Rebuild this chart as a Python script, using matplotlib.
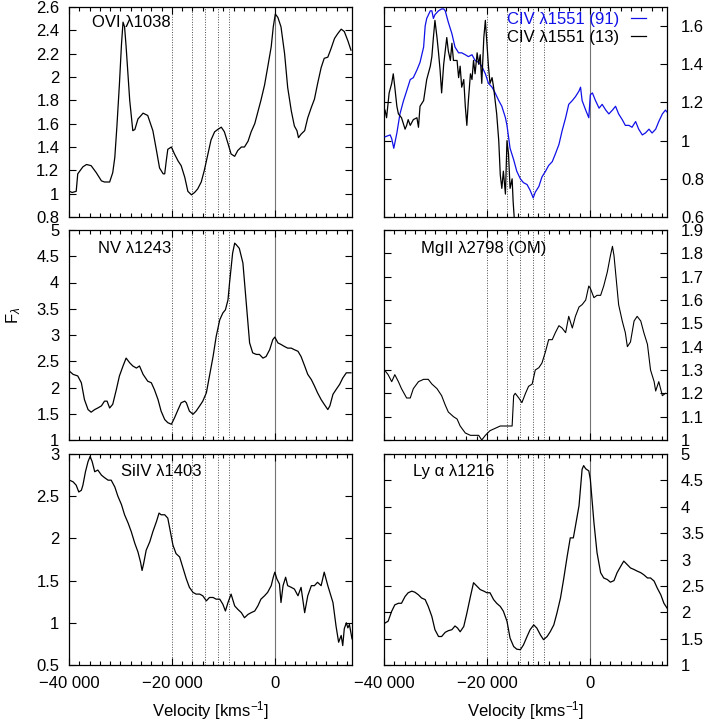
import numpy as np
import matplotlib
matplotlib.use('Agg')
import matplotlib.pyplot as plt
from matplotlib.ticker import MultipleLocator, FuncFormatter, FormatStrFormatter

plt.rcParams['font.family'] = ['Liberation Sans', 'DejaVu Sans']
plt.rcParams['mathtext.fontset'] = 'custom'
plt.rcParams['mathtext.rm'] = 'Liberation Sans'
plt.rcParams['mathtext.it'] = 'Liberation Sans:italic'
plt.rcParams['font.size'] = 12

# velocity in 10^3 km/s, flux in arbitrary units
ovi = [(-39.9, 1.02), (-39.4, 1.01), (-38.6, 1.02), (-38.3, 1.17), (-37.3, 1.23), (-36.6, 1.25),
       (-35.7, 1.24), (-34.7, 1.18), (-33.7, 1.11), (-33.1, 1.10), (-32.1, 1.10), (-31.5, 1.18),
       (-31.1, 1.31), (-30.7, 1.57), (-30.2, 1.94), (-29.8, 2.28), (-29.5, 2.47), (-29.2, 2.43),
       (-28.9, 2.26), (-28.2, 1.80), (-27.6, 1.54), (-27.2, 1.55), (-26.6, 1.64), (-25.6, 1.69),
       (-24.7, 1.67), (-23.7, 1.54), (-23.0, 1.37), (-22.4, 1.22), (-21.7, 1.17), (-21.4, 1.17),
       (-21.1, 1.28), (-20.8, 1.38), (-20.1, 1.40), (-19.5, 1.34), (-18.8, 1.28), (-18.2, 1.24),
       (-17.5, 1.14), (-16.9, 1.02), (-16.2, 0.99), (-15.6, 1.01), (-15.0, 1.04), (-14.3, 1.10),
       (-13.7, 1.20), (-13.0, 1.34), (-12.4, 1.46), (-11.7, 1.53), (-11.1, 1.55), (-10.4, 1.57),
       (-9.8, 1.53), (-9.1, 1.43), (-8.5, 1.34), (-7.8, 1.32), (-7.2, 1.37), (-6.5, 1.40),
       (-5.9, 1.40), (-5.2, 1.45), (-4.6, 1.53), (-3.9, 1.60), (-3.3, 1.70), (-2.7, 1.80),
       (-2.0, 1.93), (-1.4, 2.08), (-0.7, 2.26), (-0.3, 2.43), (0.1, 2.54), (0.6, 2.51),
       (1.2, 2.43), (1.9, 2.20), (2.5, 1.91), (3.2, 1.71), (3.8, 1.58), (4.3, 1.54),
       (4.6, 1.48), (5.1, 1.51), (5.8, 1.54), (6.4, 1.65), (7.1, 1.74), (7.7, 1.81),
       (8.3, 1.94), (9.0, 2.08), (9.6, 2.16), (10.3, 2.17), (10.9, 2.24), (11.6, 2.33),
       (12.2, 2.37), (12.9, 2.41), (13.5, 2.39), (14.2, 2.31), (14.8, 2.23)]

civ_91 = [(-39.8, 1.02), (-38.8, 1.03), (-38.5, 1.01), (-38.1, 0.96), (-37.5, 1.04), (-36.9, 1.14),
          (-36.2, 1.21), (-35.6, 1.26), (-34.9, 1.32), (-34.3, 1.33), (-33.6, 1.37), (-33.0, 1.41),
          (-32.3, 1.49), (-32.0, 1.60), (-31.7, 1.64), (-31.0, 1.68), (-30.7, 1.68), (-30.4, 1.64),
          (-30.1, 1.66), (-29.4, 1.68), (-28.8, 1.69), (-28.4, 1.69), (-28.1, 1.68), (-27.5, 1.62),
          (-26.8, 1.56), (-26.2, 1.49), (-25.5, 1.46), (-24.9, 1.46), (-24.2, 1.45), (-23.6, 1.44),
          (-22.9, 1.45), (-22.3, 1.42), (-21.6, 1.41), (-21.0, 1.39), (-20.3, 1.35), (-19.7, 1.30),
          (-19.0, 1.28), (-18.4, 1.25), (-17.7, 1.21), (-17.1, 1.18), (-16.4, 1.12), (-16.1, 1.08),
          (-15.8, 1.02), (-15.5, 0.96), (-14.8, 0.90), (-14.2, 0.84), (-13.5, 0.80), (-12.9, 0.78),
          (-12.2, 0.77), (-11.6, 0.74), (-11.0, 0.70), (-10.6, 0.73), (-9.9, 0.76), (-9.3, 0.81),
          (-8.6, 0.84), (-8.0, 0.87), (-7.3, 0.89), (-6.7, 0.93), (-6.0, 0.98), (-5.4, 1.05),
          (-4.7, 1.12), (-4.1, 1.19), (-3.4, 1.21), (-2.8, 1.23), (-2.1, 1.26), (-1.8, 1.28),
          (-1.5, 1.21), (-0.8, 1.16), (-0.2, 1.12), (0.1, 1.24), (0.5, 1.25), (1.1, 1.21),
          (1.8, 1.17), (2.4, 1.19), (3.1, 1.16), (3.7, 1.14), (4.4, 1.16), (5.0, 1.18),
          (5.6, 1.14), (6.3, 1.11), (6.9, 1.08), (7.6, 1.08), (8.2, 1.07), (8.9, 1.10),
          (9.5, 1.06), (10.2, 1.03), (10.8, 1.04), (11.5, 1.06), (12.1, 1.04), (12.8, 1.06),
          (13.4, 1.10), (14.1, 1.14), (14.7, 1.16), (15.0, 1.15)]

civ_13 = [(-39.8, 1.16), (-39.5, 1.12), (-39.0, 1.25), (-38.5, 1.30), (-38.2, 1.35), (-37.9, 1.28),
          (-37.5, 1.18), (-37.2, 1.14), (-36.6, 1.12), (-35.9, 1.06), (-35.6, 1.08), (-35.3, 1.11),
          (-34.9, 1.08), (-34.3, 1.11), (-33.6, 1.12), (-33.3, 1.07), (-33.0, 1.18), (-32.3, 1.21),
          (-31.7, 1.32), (-31.0, 1.39), (-30.7, 1.44), (-30.4, 1.54), (-30.1, 1.63), (-29.7, 1.54),
          (-29.4, 1.46), (-29.1, 1.37), (-28.8, 1.25), (-28.4, 1.40), (-28.1, 1.47), (-27.8, 1.54),
          (-27.5, 1.47), (-27.1, 1.42), (-26.8, 1.51), (-26.5, 1.42), (-25.8, 1.42), (-25.5, 1.33),
          (-25.2, 1.39), (-24.9, 1.28), (-24.5, 1.32), (-24.2, 1.18), (-23.9, 1.08), (-23.6, 1.21),
          (-23.2, 1.35), (-22.9, 1.32), (-22.6, 1.42), (-22.3, 1.35), (-21.9, 1.46), (-21.6, 1.40),
          (-21.3, 1.45), (-21.0, 1.30), (-20.6, 1.54), (-20.3, 1.63), (-20.0, 1.51), (-19.7, 1.39),
          (-19.4, 1.30), (-19.0, 1.33), (-18.7, 1.28), (-18.4, 1.21), (-18.1, 1.14), (-17.7, 1.00),
          (-17.4, 0.82), (-17.1, 0.75), (-16.8, 0.84), (-16.4, 0.72), (-16.1, 1.00), (-15.8, 0.93),
          (-15.5, 0.75), (-15.1, 0.80), (-14.9, 0.68), (-14.7, 0.60), (-14.5, 0.57)]

nv = [(-39.9, 2.31), (-39.2, 2.25), (-38.3, 2.22), (-37.6, 2.09), (-37.0, 1.77), (-36.3, 1.58),
      (-35.7, 1.53), (-35.0, 1.58), (-34.4, 1.61), (-33.7, 1.65), (-33.1, 1.74), (-32.6, 1.74),
      (-32.1, 1.61), (-31.5, 1.68), (-30.8, 1.96), (-30.2, 2.22), (-29.5, 2.41), (-28.9, 2.56),
      (-28.2, 2.47), (-27.6, 2.41), (-26.9, 2.37), (-26.3, 2.41), (-25.6, 2.25), (-24.7, 2.12),
      (-24.0, 2.09), (-23.4, 1.96), (-22.7, 1.77), (-22.1, 1.55), (-21.4, 1.39), (-20.8, 1.33),
      (-20.1, 1.30), (-19.5, 1.42), (-18.8, 1.58), (-18.2, 1.71), (-17.5, 1.74), (-17.2, 1.71),
      (-16.6, 1.55), (-15.9, 1.49), (-15.3, 1.55), (-14.6, 1.65), (-14.0, 1.74), (-13.3, 1.90),
      (-12.7, 2.22), (-12.0, 2.59), (-11.4, 2.97), (-10.7, 3.29), (-10.1, 3.42), (-9.6, 3.48),
      (-9.1, 3.67), (-8.8, 3.99), (-8.2, 4.56), (-7.8, 4.75), (-7.5, 4.72), (-6.9, 4.65),
      (-6.2, 4.37), (-5.6, 3.67), (-4.9, 2.85), (-4.3, 2.66), (-3.6, 2.63), (-3.0, 2.63),
      (-2.3, 2.56), (-1.7, 2.59), (-1.0, 2.72), (-0.4, 2.91), (0.0, 2.96), (0.6, 2.85),
      (1.2, 2.82), (1.9, 2.78), (2.5, 2.75), (3.2, 2.75), (3.8, 2.72), (4.5, 2.69),
      (5.1, 2.59), (5.8, 2.41), (6.4, 2.25), (7.1, 2.15), (7.7, 2.03), (8.3, 1.90),
      (9.0, 1.77), (9.6, 1.68), (10.3, 1.58), (10.7, 1.65), (11.3, 1.87), (11.9, 1.96),
      (12.6, 2.06), (13.2, 2.18), (13.9, 2.28), (14.8, 2.28)]

mgii = [(-39.9, 1.30), (-39.2, 1.28), (-38.5, 1.25), (-37.9, 1.28), (-37.2, 1.25), (-36.6, 1.22),
        (-35.6, 1.18), (-34.9, 1.18), (-34.3, 1.22), (-33.3, 1.25), (-32.3, 1.26), (-31.4, 1.26),
        (-30.7, 1.24), (-29.7, 1.22), (-28.8, 1.19), (-28.1, 1.15), (-27.5, 1.12), (-26.5, 1.10),
        (-25.8, 1.09), (-25.2, 1.06), (-24.2, 1.03), (-23.2, 1.02), (-22.6, 1.02), (-21.6, 1.02),
        (-21.0, 1.00), (-20.3, 1.02), (-19.4, 1.04), (-18.4, 1.05), (-17.4, 1.06), (-16.4, 1.06),
        (-15.8, 1.06), (-15.1, 1.06), (-14.8, 1.19), (-14.5, 1.20), (-13.8, 1.18), (-13.2, 1.16),
        (-12.5, 1.20), (-11.9, 1.23), (-11.2, 1.24), (-10.6, 1.30), (-9.9, 1.31), (-9.3, 1.33),
        (-8.6, 1.38), (-8.0, 1.43), (-7.3, 1.43), (-6.7, 1.46), (-6.0, 1.49), (-5.4, 1.48),
        (-4.7, 1.46), (-4.1, 1.53), (-3.4, 1.48), (-2.8, 1.53), (-2.1, 1.57), (-1.5, 1.58),
        (-0.8, 1.60), (-0.2, 1.66), (0.1, 1.65), (0.8, 1.61), (1.4, 1.62), (2.1, 1.62),
        (2.7, 1.66), (3.4, 1.72), (4.0, 1.79), (4.4, 1.83), (4.7, 1.79), (5.0, 1.72),
        (5.6, 1.58), (6.3, 1.51), (6.9, 1.46), (7.3, 1.40), (7.9, 1.42), (8.6, 1.51),
        (9.2, 1.53), (9.9, 1.51), (10.5, 1.46), (11.2, 1.41), (11.8, 1.30), (12.5, 1.25),
        (12.8, 1.21), (13.4, 1.25), (14.1, 1.19), (14.7, 1.20)]

siiv = [(-39.9, 2.69), (-39.2, 2.67), (-38.6, 2.63), (-38.1, 2.55), (-37.6, 2.57), (-37.3, 2.63),
        (-36.8, 2.79), (-36.3, 2.91), (-35.9, 2.97), (-35.5, 2.91), (-35.0, 2.79), (-34.4, 2.81),
        (-33.7, 2.75), (-33.1, 2.72), (-32.4, 2.69), (-31.8, 2.69), (-31.1, 2.61), (-30.5, 2.50),
        (-29.8, 2.40), (-29.2, 2.28), (-28.5, 2.18), (-27.9, 2.08), (-27.2, 1.94), (-26.6, 1.84),
        (-26.1, 1.72), (-25.8, 1.62), (-25.5, 1.70), (-25.0, 1.86), (-24.3, 1.96), (-23.7, 2.08),
        (-23.0, 2.20), (-22.5, 2.30), (-22.1, 2.28), (-21.4, 2.28), (-20.8, 2.24), (-20.3, 2.08),
        (-19.8, 1.92), (-19.2, 1.82), (-18.5, 1.78), (-17.9, 1.66), (-17.2, 1.52), (-16.6, 1.42),
        (-15.9, 1.36), (-15.3, 1.34), (-14.6, 1.34), (-14.0, 1.32), (-13.3, 1.26), (-12.7, 1.30),
        (-12.0, 1.30), (-11.4, 1.28), (-10.7, 1.28), (-10.1, 1.22), (-9.6, 1.14), (-9.1, 1.24),
        (-8.5, 1.34), (-7.8, 1.20), (-7.2, 1.16), (-6.5, 1.12), (-5.9, 1.06), (-5.2, 1.10),
        (-4.6, 1.12), (-3.9, 1.14), (-3.3, 1.20), (-2.7, 1.28), (-2.0, 1.32), (-1.4, 1.36),
        (-0.7, 1.44), (-0.3, 1.54), (0.0, 1.60), (0.4, 1.52), (0.9, 1.46), (1.2, 1.24),
        (1.6, 1.44), (2.1, 1.54), (2.5, 1.44), (3.2, 1.42), (3.8, 1.40), (4.5, 1.32),
        (5.1, 1.42), (5.8, 1.12), (6.4, 1.32), (7.1, 1.44), (7.7, 1.44), (8.3, 1.48),
        (9.0, 1.44), (9.6, 1.60), (10.3, 1.44), (10.9, 1.32), (11.3, 1.24), (11.9, 0.96),
        (12.4, 0.77), (12.9, 0.85), (13.2, 0.73), (13.5, 0.93), (13.9, 1.00), (14.2, 0.94),
        (14.5, 0.98), (15.0, 0.81)]

lya = [(-39.9, 1.79), (-39.2, 1.83), (-38.5, 2.02), (-37.9, 2.14), (-37.2, 2.17), (-36.6, 2.17),
       (-35.9, 2.30), (-35.3, 2.37), (-34.6, 2.40), (-34.0, 2.38), (-33.3, 2.33), (-32.7, 2.27),
       (-32.0, 2.24), (-31.4, 2.11), (-30.7, 1.92), (-30.1, 1.67), (-29.4, 1.54), (-28.8, 1.54),
       (-28.1, 1.62), (-27.5, 1.65), (-26.8, 1.67), (-26.2, 1.74), (-25.7, 1.70), (-25.2, 1.63),
       (-24.5, 1.73), (-23.9, 1.98), (-23.2, 2.30), (-22.6, 2.56), (-21.9, 2.49), (-21.3, 2.43),
       (-20.6, 2.40), (-20.0, 2.37), (-19.4, 2.37), (-18.7, 2.24), (-18.1, 2.17), (-17.4, 2.11),
       (-16.8, 2.02), (-16.1, 1.83), (-15.5, 1.51), (-14.8, 1.35), (-14.2, 1.30), (-13.5, 1.29),
       (-12.9, 1.38), (-12.2, 1.54), (-11.6, 1.67), (-10.9, 1.76), (-10.3, 1.70), (-9.6, 1.57),
       (-9.0, 1.48), (-8.3, 1.54), (-7.7, 1.63), (-7.0, 1.76), (-6.4, 1.98), (-5.7, 2.27),
       (-5.1, 2.62), (-4.4, 3.06), (-3.8, 3.41), (-3.2, 3.41), (-2.8, 3.63), (-2.1, 4.02),
       (-1.5, 4.71), (-1.2, 4.78), (-0.8, 4.72), (-0.2, 4.68), (0.1, 4.52), (0.8, 3.70),
       (1.4, 3.13), (2.1, 2.75), (2.7, 2.65), (3.4, 2.62), (4.0, 2.57), (4.7, 2.60),
       (5.3, 2.75), (6.0, 2.87), (6.6, 2.97), (7.3, 2.90), (7.9, 2.84), (8.6, 2.81),
       (9.2, 2.78), (9.9, 2.75), (10.5, 2.71), (11.2, 2.65), (11.8, 2.65), (12.5, 2.59),
       (13.1, 2.46), (13.8, 2.33), (14.4, 2.17), (15.0, 2.08)]

# absorption components (10^3 km/s)
components = [-20.0, -16.0, -13.5, -11.0, -9.0]

W, H = 708, 723
fig = plt.figure(figsize=(W / 100, H / 100), dpi=100)

cols = [69 / W, 384 / W]
width = 283 / W
rows = [((H - 217) / H, 210 / H), ((H - 440) / H, 210 / H), ((H - 665) / H, 211 / H)]


def kfmt(x, pos):
    v = int(round(x * 1000))
    s = f"{abs(v):,}".replace(",", " ")
    return ("\u2212" if v < 0 else "") + s


def setup(ax, ylim, ystep, right, bottom, label, lx, ly):
    ax.set_xlim(-40, 15)
    ax.set_ylim(*ylim)
    ax.xaxis.set_major_locator(MultipleLocator(20))
    ax.xaxis.set_minor_locator(MultipleLocator(2))
    ax.xaxis.set_major_formatter(FuncFormatter(kfmt))
    ax.yaxis.set_major_locator(MultipleLocator(ystep))
    ax.yaxis.set_major_formatter(FormatStrFormatter('%g'))
    ax.tick_params(which='both', direction='in', top=True, right=True, width=0.8)
    ax.tick_params(which='major', length=5)
    ax.tick_params(which='minor', length=3)
    ax.tick_params(axis='x', labelbottom=bottom, pad=8)
    if right:
        ax.tick_params(axis='y', labelleft=False, labelright=True, pad=10)
    else:
        ax.tick_params(axis='y', pad=7)
    for s in ax.spines.values():
        s.set_linewidth(0.9)
    for c in components:
        ax.axvline(c, color='0.3', lw=0.7, ls=(0, (1, 1.6)), zorder=1)
    ax.axvline(0, color='0.45', lw=0.8, zorder=1)
    ax.text(lx, ly, label, transform=ax.transAxes, ha='left', va='center', fontsize=12)
    if bottom:
        ax.set_xlabel('Velocity [kms$^{-1}$]', labelpad=6)


def draw(ax, data, color='black', lw=0.9, label=None):
    d = np.array(data)
    return ax.plot(d[:, 0], d[:, 1], color=color, lw=lw, zorder=3, label=label)[0]


ax1 = fig.add_axes([cols[0], rows[0][0], width, rows[0][1]])
draw(ax1, ovi)
setup(ax1, (0.8, 2.6), 0.2, False, False, 'OVI λ1038', 0.081, 0.924)

ax2 = fig.add_axes([cols[1], rows[0][0], width, rows[0][1]])
h1 = draw(ax2, civ_91, color='#1010e8', label='CIV λ1551 (91)')
h2 = draw(ax2, civ_13, label='CIV λ1551 (13)')
setup(ax2, (0.6, 1.7), 0.2, True, False, '', 0.1, 0.9)
ax2.legend([h1, h2], ['CIV λ1551 (91)', 'CIV λ1551 (13)'], loc='upper right',
           bbox_to_anchor=(0.926, 0.975), frameon=False, markerfirst=False,
           handlelength=0.9, handletextpad=0.7, labelspacing=0.15, borderpad=0,
           borderaxespad=0, labelcolor=['#1010e8', 'black'], fontsize=12)

ax3 = fig.add_axes([cols[0], rows[1][0], width, rows[1][1]])
draw(ax3, nv)
setup(ax3, (1, 5), 0.5, False, False, 'NV λ1243', 0.102, 0.914)

ax4 = fig.add_axes([cols[1], rows[1][0], width, rows[1][1]])
draw(ax4, mgii, lw=0.8)
setup(ax4, (1, 1.9), 0.1, True, False, 'MgII λ2798 (OM)', 0.130, 0.914)

ax5 = fig.add_axes([cols[0], rows[2][0], width, rows[2][1]])
draw(ax5, siiv)
setup(ax5, (0.5, 3), 0.5, False, True, 'SiIV λ1403', 0.183, 0.915)

ax6 = fig.add_axes([cols[1], rows[2][0], width, rows[2][1]])
draw(ax6, lya)
setup(ax6, (1, 5), 0.5, True, True, 'Ly α λ1216', 0.104, 0.915)

fig.text(14 / W, 1 - 315 / H, r'F$_{\lambda}$', rotation=90, ha='center', va='center', fontsize=12)

fig.savefig('out.png', dpi=100)
